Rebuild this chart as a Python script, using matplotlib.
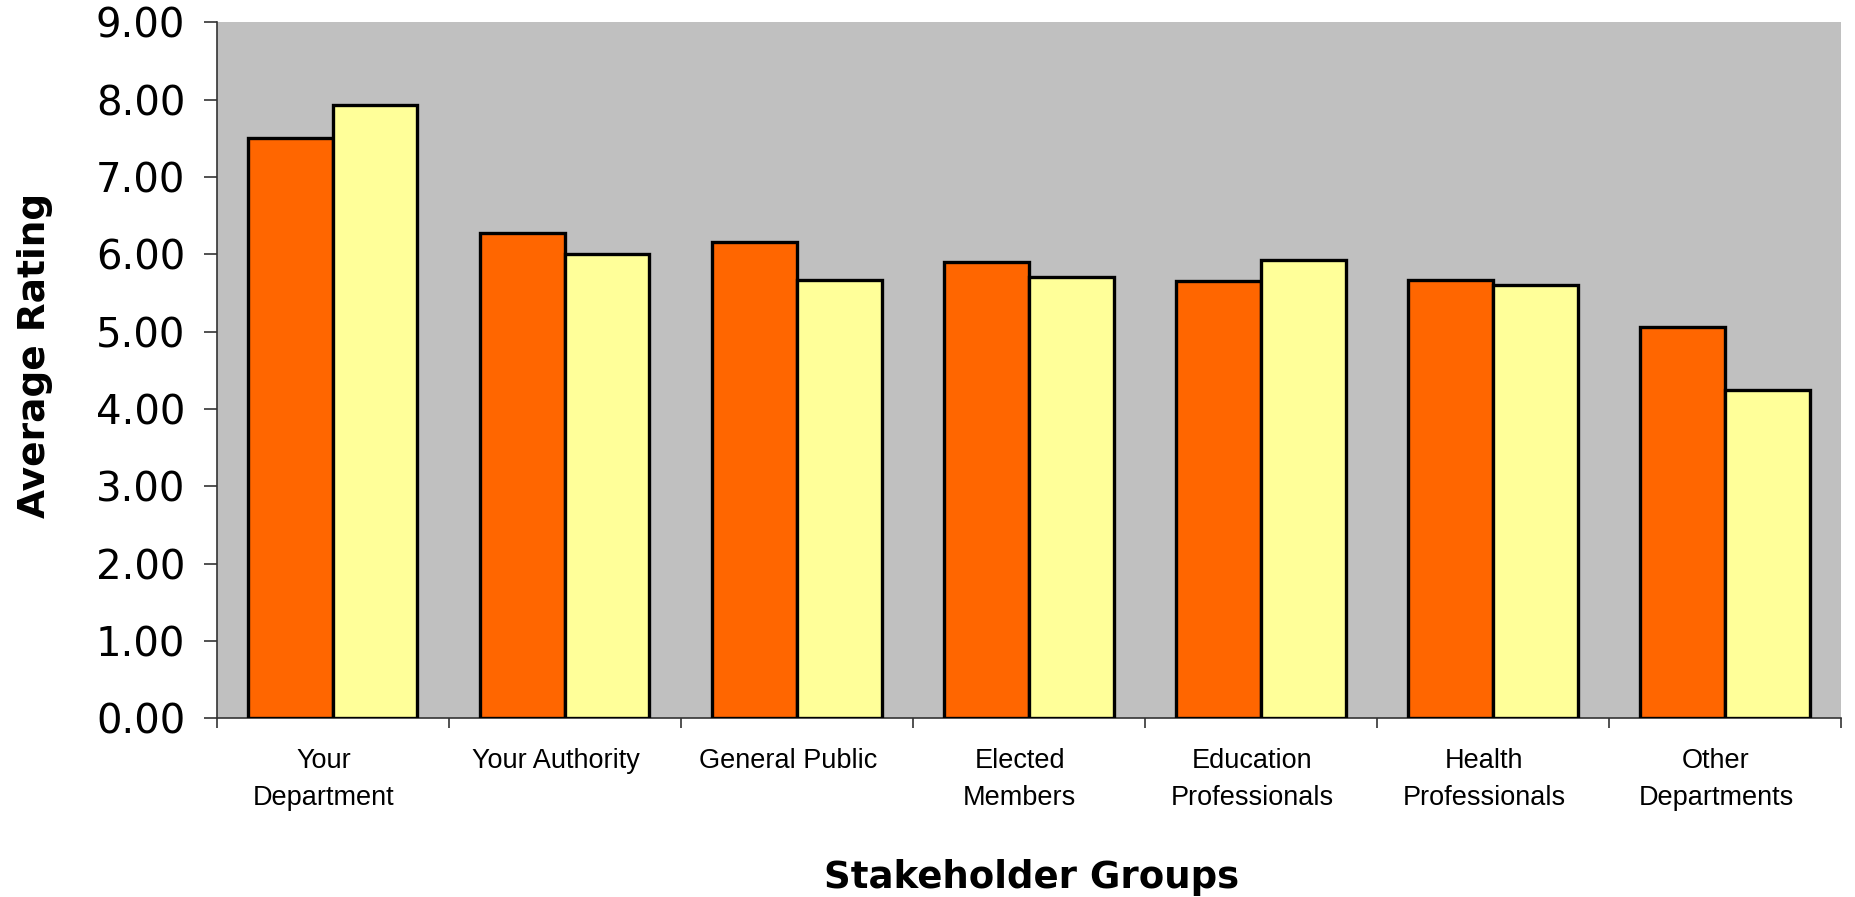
import matplotlib.pyplot as plt
import matplotlib.transforms as mtransforms
import numpy as np

# Stakeholder groups and the two rating series (orange / yellow)
groups = ["Your\nDepartment", "Your Authority", "General Public", "Elected\nMembers",
          "Education\nProfessionals", "Health\nProfessionals", "Other\nDepartments"]
rating_a = [7.50, 6.28, 6.16, 5.90, 5.66, 5.67, 5.06]
rating_b = [7.93, 6.00, 5.67, 5.71, 5.93, 5.60, 4.25]
y_ticks = [0, 1, 2, 3, 4, 5, 6, 7, 8, 9]

fig = plt.figure(figsize=(18.56, 8.97), dpi=100)
ax = fig.add_axes([0.1167, 0.199, 0.8753, 0.776])
ax.set_facecolor("#C0C0C0")

x = np.arange(len(groups))
w = 0.365
ax.bar(x - w / 2, rating_a, width=w, color="#FF6600", edgecolor="black", linewidth=2.4, zorder=3)
ax.bar(x + w / 2, rating_b, width=w, color="#FFFF99", edgecolor="black", linewidth=2.4, zorder=3)

ax.set_xlim(-0.5, len(groups) - 0.5)
ax.set_ylim(0, 9)

# y axis
ax.set_yticks(y_ticks)
ax.set_yticklabels([f"{v:.2f}" for v in y_ticks], fontsize=29, family="DejaVu Sans")
ax.tick_params(axis="y", direction="out", length=9.5, width=1.2, color="#333333", pad=13)

# x axis: labels at centres, ticks at category boundaries
ax.set_xticks(x)
ax.set_xticklabels(groups, fontsize=19.5, family=["Liberation Sans", "DejaVu Sans"], linespacing=1.55)
ax.tick_params(axis="x", which="major", length=0, pad=21)
shift = mtransforms.ScaledTranslation(-9 / 100, 0, fig.dpi_scale_trans)
for lab in ax.get_xticklabels():
    lab.set_transform(lab.get_transform() + shift)
ax.set_xticks(np.arange(len(groups) + 1) - 0.5, minor=True)
ax.tick_params(axis="x", which="minor", direction="out", length=7, width=1.2, color="#333333")

for side in ["top", "right"]:
    ax.spines[side].set_visible(False)
for side in ["left", "bottom"]:
    ax.spines[side].set_color("#333333")
    ax.spines[side].set_linewidth(1.2)

fig.text(0.019, 0.604, "Average Rating", rotation=90, ha="center", va="center",
         fontsize=27, fontweight="bold", family="DejaVu Sans")
fig.text(0.556, 0.022, "Stakeholder Groups", ha="center", va="center",
         fontsize=26.7, fontweight="bold", family="DejaVu Sans")

fig.savefig("out.png", dpi=100)
